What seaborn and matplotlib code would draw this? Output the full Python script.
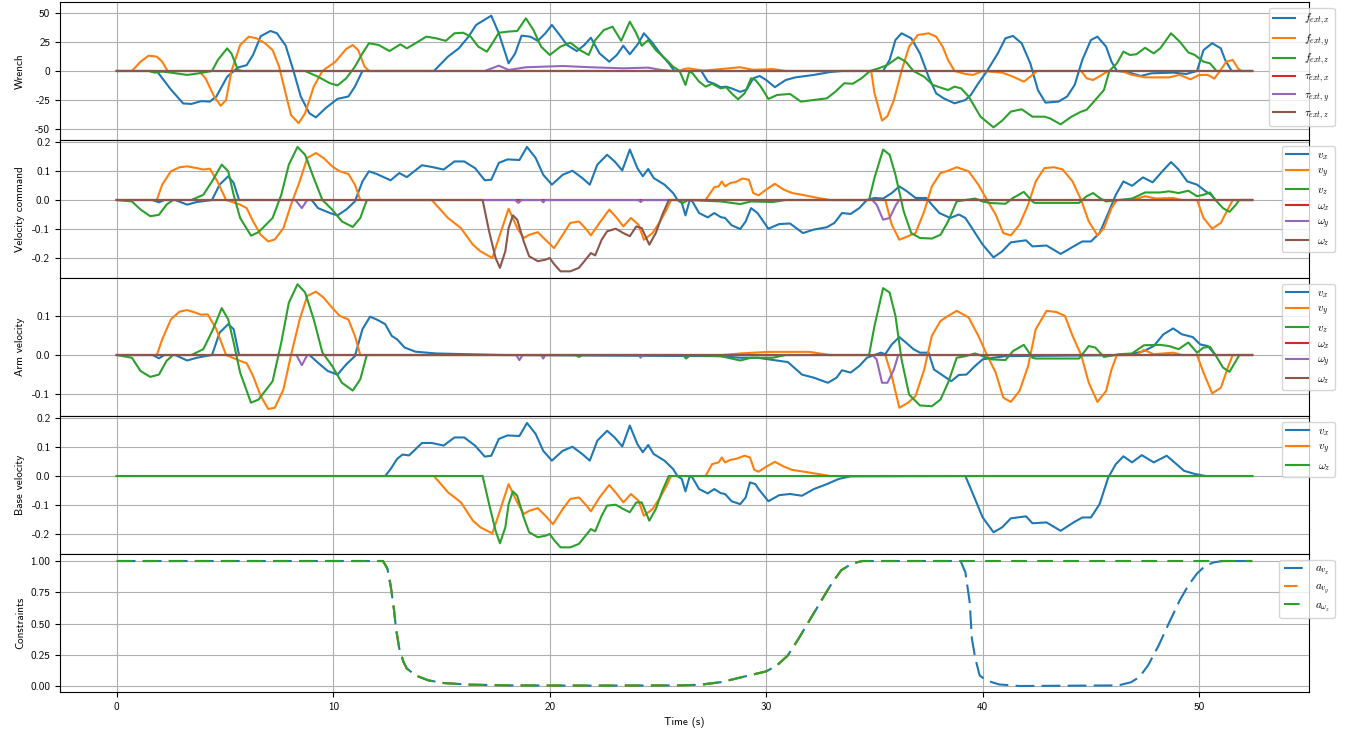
import matplotlib
matplotlib.use('Agg')
import matplotlib.pyplot as plt
import seaborn as sns
import pandas as pd

# time in s: (t, v) pairs
T_END = 52.45

# --- Wrench
f_ext_x = [(0, 0), (1.85, 0), (2.5, -16), (3.07, -28), (3.45, -28.4), (3.9, -26), (4.3, -26.4), (4.6, -22), (5.1, -5), (5.6, 3), (6.0, 5), (6.3, 14), (6.65, 30), (7.1, 34.5), (7.4, 32.5), (7.8, 22), (8.15, 1), (8.5, -22), (8.9, -36.5), (9.2, -40), (9.65, -32), (10.2, -24), (10.7, -22), (11.0, -13.5), (11.35, 0), (14.65, 0), (15.3, 12.4), (15.8, 19.5), (16.25, 29.6), (16.6, 39.7), (17.3, 47.7), (17.65, 32.5), (18.1, 6.6), (18.4, 15), (18.7, 30.5), (19.1, 29.6), (19.45, 26), (19.8, 32.5), (20.1, 39.7), (20.4, 32.5), (20.8, 22.4), (21.25, 17.2), (21.6, 22.4), (21.9, 28.7), (22.3, 15.2), (22.75, 8), (23.1, 13.8), (23.4, 21.8), (23.7, 14.4), (24.1, 23.9), (24.35, 32.5), (24.7, 25.3), (25.1, 15.2), (25.5, 6.6), (25.76, 0), (27.0, 0), (27.3, -9), (27.6, -11), (27.9, -14), (28.15, -13.5), (28.4, -15), (28.8, -18), (29.1, -16), (29.4, -6.3), (29.7, -4.3), (30.0, -7.8), (30.4, -14), (30.9, -7.8), (31.35, -5.5), (32.2, -3.4), (32.96, -0.9), (33.5, 0), (35.4, 0), (35.7, 9.5), (35.97, 26.7), (36.25, 32.5), (36.7, 28.2), (37.1, 15.2), (37.5, -5), (37.85, -19.3), (38.2, -23.6), (38.7, -27.9), (39.2, -25), (39.45, -20.7), (39.8, -10.6), (40.2, 0), (40.7, 15.2), (41.05, 28.2), (41.4, 30.2), (41.8, 23.9), (42.2, 6.6), (42.55, -16.4), (42.9, -27.3), (43.5, -26.4), (43.9, -22), (44.25, -12), (44.6, 9.5), (45.0, 26.7), (45.3, 29.6), (45.7, 21), (45.95, 8), (46.2, 0), (46.7, -1), (47.3, -4.3), (47.8, -2), (48.8, -1.4), (49.4, -2.6), (49.9, 0), (50.2, 18), (50.6, 23.9), (51.0, 19.5), (51.2, 9.5), (51.5, 0), (T_END, 0)]
f_ext_y = [(0, 0), (0.7, 0), (1.1, 8), (1.47, 13.2), (1.85, 12.4), (2.1, 8), (2.35, 0), (3.8, 0), (4.1, -6.3), (4.5, -22), (4.8, -30), (5.05, -25), (5.3, 0), (5.7, 22.4), (6.1, 29.6), (6.45, 28.2), (6.85, 23.9), (7.2, 18), (7.5, 3.7), (7.8, -19.3), (8.05, -38), (8.4, -45), (8.7, -36.5), (9.1, -13.5), (9.5, 0), (10.1, 8), (10.6, 19), (10.9, 22.4), (11.15, 18), (11.45, 3.7), (11.65, 0), (26.0, 0), (26.2, 1.7), (26.4, 2.3), (27.1, 0.3), (28.8, 3.2), (29.4, 1), (30.3, 1.7), (30.9, 0), (34.85, 0), (35.0, -19), (35.35, -42.8), (35.6, -39), (35.9, -25), (36.25, 0), (36.6, 21), (37.0, 31), (37.5, 32.5), (37.85, 29.6), (38.15, 21), (38.4, 9.5), (38.7, 0), (39.2, -2.6), (39.55, -3.4), (40.0, 0), (40.9, -1.4), (41.4, -4.9), (41.9, -9.2), (42.2, -4.9), (42.5, 0), (44.55, 0), (44.8, -6.3), (45.1, -7.8), (45.5, -3.4), (45.8, 0), (46.4, 0), (46.9, -3.4), (47.5, -5.5), (48.6, -5.5), (49.1, -3.4), (49.6, -7.2), (50.0, -3.4), (50.4, -3.4), (50.7, -6.6), (50.96, 0), (51.25, 8), (51.55, 9.5), (51.8, 2), (51.95, 0), (T_END, 0)]
f_ext_z = [(0, 0), (1.47, 0), (1.75, -1.4), (2.1, -0.5), (2.5, -1.4), (3.25, -3.4), (3.8, -2), (4.4, 0), (4.67, 9.5), (5.1, 19.5), (5.3, 15), (5.6, 0.9), (5.8, 0), (8.7, 0), (9.3, -5), (9.85, -10.6), (10.2, -12.4), (10.6, -6.3), (11.0, 3.7), (11.35, 15.2), (11.65, 23.9), (12.1, 22.4), (12.6, 17.2), (13.1, 23), (13.4, 19.5), (13.8, 23.9), (14.3, 29.6), (14.75, 28.2), (15.2, 26), (15.6, 32.5), (16.0, 33), (16.35, 29.6), (16.7, 21), (17.1, 16.7), (17.35, 23.9), (17.65, 33), (18.1, 34), (18.5, 34.5), (18.9, 45.4), (19.25, 35.3), (19.6, 21), (20.0, 13.8), (20.5, 21), (20.95, 24.4), (21.4, 18), (21.8, 13.8), (22.1, 26.7), (22.5, 35.3), (22.9, 38.2), (23.3, 26), (23.7, 42.5), (24.0, 32.5), (24.25, 21.8), (24.55, 26.7), (24.9, 18), (25.4, 9.5), (25.7, 3.7), (26.0, 0), (26.27, -12), (26.45, -0.5), (26.6, -2), (26.9, -9.2), (27.2, -13.5), (27.5, -11), (27.9, -15), (28.15, -14), (28.4, -19.3), (28.7, -24.4), (29.0, -19.3), (29.3, -6.3), (29.5, -7.8), (29.75, -13.5), (30.1, -24.1), (30.5, -20.7), (31.1, -19.8), (31.6, -26.4), (32.2, -25), (32.8, -23.6), (33.2, -17.8), (33.6, -10.6), (34.0, -11), (34.4, -6.3), (34.8, 0), (35.2, 2.3), (35.6, 5.2), (36.1, 11.8), (36.45, 8), (36.8, 0), (37.3, -5), (37.7, -12), (38.0, -14), (38.4, -16.4), (38.7, -13.5), (39.0, -15), (39.35, -22), (39.9, -39.4), (40.5, -48.6), (40.9, -42.8), (41.3, -35), (41.8, -33), (42.3, -39.4), (42.85, -39.4), (43.1, -40.8), (43.6, -46), (44.1, -39.4), (44.55, -35), (44.8, -33.5), (45.2, -25), (45.6, -16.4), (45.85, 0), (46.2, 6.6), (46.5, 16.7), (46.8, 13.8), (47.1, 14.4), (47.5, 20), (47.9, 15.2), (48.2, 19.5), (48.7, 32.5), (49.1, 25.3), (49.5, 16), (49.8, 13.8), (50.2, 8), (50.5, 6.6), (50.8, 0), (T_END, 0)]
tau_ext_x = [(0, 0), (T_END, 0)]
tau_ext_y = [(0, 0), (17.0, 0), (17.65, 4.6), (18.1, 0.9), (18.9, 3.2), (20.6, 4.3), (21.9, 3.2), (23.4, 2.3), (24.55, 2.9), (25.1, 1), (25.7, 0), (T_END, 0)]
tau_ext_z = [(0, 0), (T_END, 0)]

# --- Velocity command
cmd_vx = [(0, 0), (1.65, 0), (1.95, -0.008), (2.2, 0), (2.7, 0), (3.25, -0.016), (3.7, -0.007), (4.4, 0), (4.75, 0.053), (5.15, 0.082), (5.4, 0.059), (5.65, 0), (9.0, 0), (9.3, -0.028), (9.85, -0.045), (10.2, -0.053), (10.6, -0.033), (11.0, -0.005), (11.35, 0.064), (11.65, 0.099), (12.0, 0.09), (12.65, 0.068), (13.05, 0.093), (13.4, 0.079), (14.1, 0.12), (14.55, 0.114), (15.1, 0.105), (15.6, 0.133), (16.05, 0.133), (16.55, 0.11), (17.0, 0.068), (17.3, 0.07), (17.65, 0.128), (18.05, 0.14), (18.6, 0.138), (18.95, 0.183), (19.35, 0.145), (19.7, 0.087), (20.1, 0.053), (20.6, 0.087), (21.05, 0.101), (21.5, 0.076), (21.85, 0.053), (22.2, 0.122), (22.65, 0.156), (23.0, 0.133), (23.35, 0.102), (23.7, 0.174), (24.05, 0.11), (24.3, 0.082), (24.55, 0.107), (24.8, 0.076), (25.3, 0.053), (25.7, 0.024), (25.9, 0), (26.1, -0.01), (26.27, -0.053), (26.45, -0.005), (26.55, 0), (26.9, -0.045), (27.3, -0.06), (27.6, -0.045), (27.9, -0.059), (28.1, -0.062), (28.4, -0.087), (28.8, -0.1), (29.05, -0.074), (29.3, -0.028), (29.6, -0.045), (30.1, -0.099), (30.6, -0.083), (31.1, -0.081), (31.7, -0.114), (32.2, -0.102), (32.8, -0.094), (33.15, -0.079), (33.5, -0.045), (33.9, -0.048), (34.3, -0.028), (34.65, 0), (35.0, 0.007), (35.4, 0.005), (35.8, 0.024), (36.15, 0.047), (36.5, 0.03), (36.9, 0.007), (37.4, 0.007), (37.65, -0.016), (38.0, -0.045), (38.5, -0.062), (38.9, -0.05), (39.2, -0.062), (39.55, -0.102), (40.0, -0.154), (40.5, -0.198), (40.9, -0.177), (41.3, -0.146), (42.0, -0.139), (42.3, -0.16), (42.95, -0.157), (43.6, -0.186), (44.2, -0.16), (44.6, -0.143), (45.0, -0.143), (45.4, -0.114), (45.8, -0.045), (46.15, 0.018), (46.5, 0.064), (46.9, 0.049), (47.4, 0.078), (47.85, 0.061), (48.3, 0.099), (48.7, 0.131), (49.05, 0.105), (49.45, 0.064), (49.9, 0.053), (50.3, 0.03), (50.55, 0.018), (50.75, 0), (T_END, 0)]
cmd_vy = [(0, 0), (1.85, 0), (2.1, 0.053), (2.5, 0.099), (2.9, 0.113), (3.25, 0.116), (3.7, 0.11), (4.0, 0.105), (4.3, 0.108), (4.65, 0.064), (5.05, 0), (5.7, -0.016), (6.0, -0.028), (6.3, -0.074), (6.65, -0.12), (7.0, -0.143), (7.3, -0.136), (7.7, -0.097), (8.05, -0.016), (8.45, 0.064), (8.8, 0.145), (9.2, 0.162), (9.55, 0.145), (9.95, 0.116), (10.3, 0.099), (10.7, 0.09), (11.0, 0.053), (11.25, 0), (14.55, 0), (15.3, -0.062), (15.9, -0.097), (16.45, -0.154), (16.8, -0.177), (17.35, -0.2), (17.65, -0.131), (18.1, -0.03), (18.5, -0.097), (18.8, -0.131), (19.05, -0.12), (19.45, -0.111), (19.8, -0.137), (20.2, -0.166), (20.6, -0.12), (20.95, -0.079), (21.35, -0.074), (21.7, -0.102), (21.9, -0.122), (22.3, -0.079), (22.75, -0.033), (23.1, -0.062), (23.4, -0.091), (23.75, -0.062), (24.1, -0.085), (24.35, -0.137), (24.75, -0.114), (25.1, -0.074), (25.4, -0.033), (25.6, 0), (27.2, 0), (27.6, 0.044), (27.8, 0.047), (27.95, 0.064), (28.1, 0.047), (28.35, 0.059), (28.6, 0.062), (28.9, 0.074), (29.2, 0.07), (29.4, 0.024), (29.65, 0.016), (30.0, 0.036), (30.4, 0.056), (30.8, 0.036), (31.2, 0.024), (31.65, 0.018), (32.4, 0.007), (32.95, 0), (35.5, 0), (35.8, -0.085), (36.15, -0.137), (36.55, -0.125), (36.9, -0.114), (37.3, -0.039), (37.65, 0.047), (38.05, 0.093), (38.4, 0.101), (38.8, 0.113), (39.35, 0.099), (39.8, 0.053), (40.2, 0), (40.6, -0.05), (40.95, -0.114), (41.3, -0.122), (41.7, -0.085), (42.1, -0.016), (42.45, 0.064), (42.85, 0.11), (43.3, 0.113), (43.7, 0.105), (44.15, 0.064), (44.55, 0), (44.9, -0.074), (45.3, -0.122), (45.6, -0.097), (45.95, -0.028), (46.2, 0), (46.9, 0), (47.5, 0.013), (48.0, 0.005), (48.8, 0.007), (49.2, 0), (49.9, 0), (50.2, -0.062), (50.6, -0.099), (51.0, -0.079), (51.35, -0.028), (51.55, 0), (T_END, 0)]
cmd_vz = [(0, 0), (0.7, -0.005), (1.1, -0.033), (1.55, -0.056), (1.95, -0.051), (2.3, -0.016), (2.6, 0), (3.45, 0), (4.0, 0.018), (4.4, 0.064), (4.85, 0.122), (5.15, 0.099), (5.4, 0.018), (5.7, -0.062), (6.2, -0.123), (6.55, -0.111), (7.2, -0.062), (7.6, 0.018), (7.95, 0.122), (8.35, 0.183), (8.7, 0.156), (9.1, 0.076), (9.5, 0), (9.95, -0.033), (10.4, -0.074), (10.9, -0.093), (11.25, -0.062), (11.55, 0), (26.0, 0), (26.15, -0.01), (26.4, 0), (27.9, -0.005), (28.8, -0.014), (29.3, -0.005), (30.3, -0.007), (30.9, 0), (34.75, 0), (35.0, 0.076), (35.4, 0.174), (35.7, 0.156), (35.97, 0.087), (36.35, -0.039), (36.7, -0.114), (37.1, -0.131), (37.65, -0.133), (38.05, -0.12), (38.4, -0.074), (38.8, -0.005), (39.2, 0), (39.65, 0.005), (40.0, -0.005), (40.3, -0.01), (41.05, -0.013), (41.4, 0.007), (41.9, 0.028), (42.3, -0.005), (42.4, -0.01), (44.45, -0.01), (44.8, 0.013), (45.1, 0.024), (45.4, 0.007), (45.7, -0.005), (46.3, 0), (46.9, 0.005), (47.5, 0.026), (48.2, 0.026), (48.6, 0.03), (49.05, 0.024), (49.5, 0.032), (49.9, 0.013), (50.2, 0.018), (50.5, 0.026), (50.75, 0), (51.1, -0.028), (51.4, -0.041), (51.7, -0.016), (51.85, 0), (T_END, 0)]
cmd_wx = [(0, 0), (T_END, 0)]
cmd_wy = [(0, 0), (8.25, 0), (8.55, -0.028), (8.8, 0), (18.4, 0), (18.55, -0.01), (18.7, 0), (19.6, 0), (19.7, -0.008), (19.8, 0), (24.1, 0), (24.2, -0.007), (24.3, 0), (34.9, 0), (35.1, -0.016), (35.4, -0.068), (35.7, -0.062), (36.0, -0.016), (36.15, 0), (T_END, 0)]
cmd_wz = [(0, 0), (16.9, 0), (17.2, -0.108), (17.5, -0.2), (17.7, -0.234), (17.95, -0.177), (18.1, -0.097), (18.3, -0.053), (18.5, -0.068), (18.8, -0.143), (19.05, -0.194), (19.45, -0.211), (19.8, -0.206), (20.0, -0.2), (20.2, -0.221), (20.5, -0.246), (20.95, -0.246), (21.35, -0.234), (21.6, -0.211), (21.9, -0.183), (22.1, -0.191), (22.4, -0.137), (22.65, -0.108), (23.05, -0.099), (23.4, -0.114), (23.7, -0.125), (24.0, -0.091), (24.25, -0.097), (24.6, -0.154), (24.9, -0.114), (25.2, -0.051), (25.5, 0), (T_END, 0)]

# --- Arm velocity
arm_vx = [(0, 0), (1.65, 0), (1.95, -0.0085), (2.2, 0), (2.7, 0), (3.25, -0.014), (3.7, -0.007), (4.4, 0), (4.75, 0.057), (5.15, 0.079), (5.4, 0.066), (5.65, 0), (8.9, 0), (9.3, -0.02), (9.75, -0.041), (10.2, -0.05), (10.6, -0.024), (11.0, -0.003), (11.35, 0.066), (11.7, 0.098), (12.0, 0.091), (12.4, 0.079), (12.7, 0.049), (12.95, 0.04), (13.3, 0.019), (13.8, 0.0085), (14.75, 0.004), (16.25, 0.002), (17.75, 0), (27.9, -0.003), (28.8, -0.007), (29.6, -0.007), (30.1, -0.011), (31.0, -0.018), (31.65, -0.05), (32.2, -0.058), (32.85, -0.071), (33.25, -0.058), (33.5, -0.039), (33.9, -0.045), (34.3, -0.028), (34.65, -0.007), (35.0, 0), (35.3, 0.006), (35.5, 0.002), (35.8, 0.027), (36.15, 0.046), (36.45, 0.032), (36.8, 0.015), (37.1, 0.006), (37.5, 0.006), (37.75, -0.037), (38.15, -0.052), (38.55, -0.067), (38.9, -0.051), (39.25, -0.05), (39.65, -0.028), (40.0, -0.011), (40.5, -0.007), (41.05, -0.003), (46.7, 0), (47.45, 0.01), (47.9, 0.023), (48.35, 0.053), (48.8, 0.068), (49.2, 0.053), (49.7, 0.046), (50.05, 0.027), (50.4, 0.023), (50.75, 0), (T_END, 0)]
arm_vy = [(0, 0), (1.85, 0), (2.1, 0.04), (2.5, 0.091), (2.9, 0.111), (3.25, 0.115), (3.6, 0.109), (3.9, 0.103), (4.2, 0.104), (4.6, 0.066), (5.05, 0), (5.7, -0.015), (6.0, -0.021), (6.3, -0.054), (6.65, -0.105), (7.0, -0.138), (7.3, -0.135), (7.7, -0.088), (8.05, 0), (8.45, 0.091), (8.8, 0.151), (9.2, 0.162), (9.55, 0.147), (9.95, 0.121), (10.3, 0.1), (10.7, 0.091), (11.0, 0.049), (11.25, 0), (28.0, 0), (28.8, 0.004), (30.1, 0.008), (32.0, 0.008), (32.95, 0), (35.5, 0), (35.8, -0.054), (36.15, -0.135), (36.55, -0.122), (36.9, -0.105), (37.3, -0.037), (37.65, 0.049), (38.05, 0.087), (38.4, 0.1), (38.8, 0.113), (39.35, 0.096), (39.8, 0.049), (40.2, 0), (40.6, -0.045), (40.95, -0.109), (41.3, -0.12), (41.7, -0.092), (42.1, -0.028), (42.45, 0.066), (42.95, 0.113), (43.4, 0.11), (43.8, 0.1), (44.15, 0.049), (44.55, 0), (44.9, -0.071), (45.3, -0.12), (45.7, -0.092), (45.95, -0.037), (46.2, 0), (47.1, 0), (47.45, 0.013), (47.9, 0.002), (48.8, 0.006), (49.2, 0), (49.9, 0), (50.2, -0.045), (50.6, -0.098), (51.0, -0.084), (51.35, -0.028), (51.55, 0), (T_END, 0)]
arm_vz = [(0, 0), (0.7, -0.007), (1.1, -0.041), (1.55, -0.056), (1.95, -0.05), (2.3, -0.015), (2.6, 0), (3.45, 0), (4.0, 0.015), (4.45, 0.066), (4.85, 0.12), (5.15, 0.091), (5.4, 0.032), (5.7, -0.045), (6.2, -0.122), (6.55, -0.114), (7.2, -0.067), (7.6, 0.032), (7.95, 0.134), (8.35, 0.181), (8.7, 0.16), (9.1, 0.091), (9.5, 0.006), (9.95, -0.028), (10.4, -0.071), (10.9, -0.091), (11.25, -0.062), (11.55, 0), (21.2, 0), (21.35, -0.005), (21.5, 0), (26.15, 0), (26.3, -0.009), (26.5, 0), (27.9, -0.003), (28.8, -0.014), (29.3, -0.007), (30.3, -0.007), (30.9, 0), (34.75, 0), (35.0, 0.074), (35.4, 0.171), (35.7, 0.16), (35.97, 0.1), (36.25, -0.011), (36.6, -0.101), (37.1, -0.129), (37.65, -0.131), (38.05, -0.114), (38.4, -0.071), (38.8, -0.007), (39.2, -0.003), (39.65, 0.004), (40.0, -0.003), (40.4, -0.011), (41.05, -0.013), (41.4, 0.01), (41.9, 0.026), (42.3, -0.007), (42.45, -0.009), (44.45, -0.009), (44.9, 0.023), (45.2, 0.019), (45.6, -0.005), (46.3, 0.002), (46.9, 0.004), (47.45, 0.025), (48.2, 0.026), (48.6, 0.023), (49.05, 0.015), (49.5, 0.032), (49.9, 0.006), (50.2, 0.019), (50.5, 0.021), (50.75, 0), (51.1, -0.032), (51.4, -0.043), (51.7, -0.015), (51.85, 0), (T_END, 0)]
arm_wx = [(0, 0), (T_END, 0)]
arm_wy = [(0, 0), (8.3, 0), (8.55, -0.026), (8.8, 0), (18.45, 0), (18.6, -0.013), (18.75, 0), (19.6, 0), (19.7, -0.009), (19.8, 0), (24.1, 0), (24.2, -0.007), (24.3, 0), (34.9, 0), (35.1, -0.011), (35.35, -0.071), (35.6, -0.071), (35.9, -0.037), (36.1, 0), (T_END, 0)]
arm_wz = [(0, 0), (T_END, 0)]

# --- Base velocity
base_vx = [(0, 0), (12.4, 0), (12.65, 0.024), (12.95, 0.059), (13.2, 0.074), (13.5, 0.071), (14.1, 0.114), (14.55, 0.114), (15.1, 0.105), (15.6, 0.133), (16.05, 0.133), (16.55, 0.105), (17.0, 0.067), (17.3, 0.07), (17.65, 0.128), (18.05, 0.14), (18.6, 0.138), (18.95, 0.183), (19.35, 0.145), (19.7, 0.087), (20.1, 0.053), (20.6, 0.087), (21.05, 0.101), (21.5, 0.076), (21.85, 0.053), (22.2, 0.122), (22.65, 0.156), (23.0, 0.133), (23.35, 0.102), (23.7, 0.174), (24.05, 0.11), (24.3, 0.082), (24.55, 0.107), (24.8, 0.076), (25.3, 0.053), (25.7, 0.024), (25.9, 0), (26.1, -0.01), (26.27, -0.053), (26.45, -0.005), (26.55, 0), (26.9, -0.045), (27.3, -0.06), (27.6, -0.045), (27.9, -0.059), (28.1, -0.062), (28.4, -0.087), (28.8, -0.097), (29.05, -0.074), (29.25, -0.022), (29.5, -0.028), (29.65, -0.045), (30.1, -0.087), (30.6, -0.066), (31.1, -0.062), (31.65, -0.068), (32.2, -0.045), (32.8, -0.028), (33.35, -0.01), (33.9, -0.001), (39.2, 0), (39.55, -0.062), (40.0, -0.143), (40.5, -0.194), (40.9, -0.177), (41.3, -0.146), (42.0, -0.139), (42.3, -0.163), (42.95, -0.16), (43.6, -0.189), (44.2, -0.16), (44.6, -0.143), (45.0, -0.143), (45.4, -0.097), (45.8, -0.005), (46.15, 0.041), (46.5, 0.068), (46.9, 0.047), (47.35, 0.072), (47.9, 0.047), (48.5, 0.07), (48.95, 0.041), (49.3, 0.018), (49.8, 0.007), (50.3, 0), (T_END, 0)]
base_vy = [(0, 0), (14.65, 0), (15.3, -0.056), (15.9, -0.091), (16.45, -0.154), (16.8, -0.177), (17.35, -0.198), (17.65, -0.131), (18.1, -0.028), (18.5, -0.091), (18.8, -0.131), (19.05, -0.12), (19.45, -0.111), (19.8, -0.137), (20.15, -0.166), (20.6, -0.114), (20.95, -0.079), (21.35, -0.074), (21.7, -0.102), (21.9, -0.122), (22.3, -0.074), (22.75, -0.031), (23.1, -0.062), (23.4, -0.091), (23.75, -0.062), (24.1, -0.085), (24.35, -0.137), (24.75, -0.114), (25.1, -0.074), (25.4, -0.033), (25.6, 0), (27.2, 0), (27.5, 0.041), (27.8, 0.047), (27.95, 0.064), (28.1, 0.047), (28.35, 0.056), (28.6, 0.059), (29.0, 0.07), (29.25, 0.064), (29.45, 0.021), (29.65, 0.015), (30.0, 0.032), (30.4, 0.049), (30.8, 0.033), (31.2, 0.021), (31.65, 0.016), (32.4, 0.007), (32.95, 0), (T_END, 0)]
base_wz = [(0, 0), (16.9, 0), (17.2, -0.097), (17.5, -0.189), (17.7, -0.232), (17.95, -0.177), (18.1, -0.097), (18.3, -0.053), (18.5, -0.068), (18.8, -0.143), (19.05, -0.194), (19.45, -0.211), (19.8, -0.206), (20.0, -0.2), (20.2, -0.221), (20.5, -0.246), (20.95, -0.246), (21.35, -0.234), (21.6, -0.211), (21.9, -0.183), (22.1, -0.191), (22.4, -0.137), (22.65, -0.102), (23.05, -0.099), (23.4, -0.114), (23.7, -0.125), (24.0, -0.091), (24.25, -0.091), (24.6, -0.154), (24.9, -0.114), (25.2, -0.051), (25.5, 0), (T_END, 0)]

# --- Constraints
con_vy = [(0, 1), (12.3, 1), (12.5, 0.94), (12.65, 0.805), (12.8, 0.62), (12.9, 0.46), (13.05, 0.3), (13.25, 0.19), (13.4, 0.14), (13.8, 0.085), (14.4, 0.045), (15.1, 0.024), (16.25, 0.011), (18.1, 0.005), (21.9, 0.003), (26.0, 0.005), (27.0, 0.011), (27.95, 0.032), (28.9, 0.072), (30.0, 0.117), (30.5, 0.165), (31.0, 0.245), (31.5, 0.38), (32.0, 0.525), (32.5, 0.67), (32.97, 0.805), (33.46, 0.925), (33.96, 0.98), (34.45, 1.0), (T_END, 1.0)]
con_wz = list(con_vy)  # same curve as a_vy in the picture
con_vx = con_vy[:-1] + [(38.98, 1.0), (39.2, 0.91), (39.4, 0.67), (39.5, 0.38), (39.66, 0.22), (39.86, 0.085), (40.16, 0.045), (40.75, 0.013), (41.7, 0.0), (46.26, 0.005), (46.85, 0.03), (47.24, 0.072), (47.64, 0.165), (48.13, 0.325), (48.62, 0.51), (49.1, 0.685), (49.5, 0.805), (49.9, 0.9), (50.3, 0.965), (50.7, 0.99), (51.1, 1.0), (T_END, 1.0)]


def to_long(series):
    rows = []
    for label, pts in series:
        for t, v in pts:
            rows.append({'t': t, 'v': v, 'series': label})
    return pd.DataFrame(rows)


panels = [
    ('Wrench', [(r'$f_{ext,x}$', f_ext_x), (r'$f_{ext,y}$', f_ext_y), (r'$f_{ext,z}$', f_ext_z),
                (r'$\tau_{ext,x}$', tau_ext_x), (r'$\tau_{ext,y}$', tau_ext_y), (r'$\tau_{ext,z}$', tau_ext_z)],
     (-59.5, 59.5), [-50, -25, 0, 25, 50]),
    ('Velocity command', [(r'$v_x$', cmd_vx), (r'$v_y$', cmd_vy), (r'$v_z$', cmd_vz),
                          (r'$\omega_x$', cmd_wx), (r'$\omega_y$', cmd_wy), (r'$\omega_z$', cmd_wz)],
     (-0.269, 0.207), [-0.2, -0.1, 0.0, 0.1, 0.2]),
    ('Arm velocity', [(r'$v_x$', arm_vx), (r'$v_y$', arm_vy), (r'$v_z$', arm_vz),
                      (r'$\omega_x$', arm_wx), (r'$\omega_y$', arm_wy), (r'$\omega_z$', arm_wz)],
     (-0.156, 0.197), [-0.1, 0.0, 0.1]),
    ('Base velocity', [(r'$v_x$', base_vx), (r'$v_y$', base_vy), (r'$\omega_z$', base_wz)],
     (-0.269, 0.207), [-0.2, -0.1, 0.0, 0.1, 0.2]),
    ('Constraints', [(r'$a_{v_x}$', con_vx), (r'$a_{v_y}$', con_vy), (r'$a_{\omega_z}$', con_wz)],
     (-0.048, 1.056), [0.0, 0.25, 0.5, 0.75, 1.0]),
]

plt.rcParams.update({
    'font.family': 'cmss10',
    'mathtext.fontset': 'cm',
    'axes.unicode_minus': False,
    'axes.formatter.use_mathtext': False,
    'font.size': 8,
})

fig, axes = plt.subplots(5, 1, sharex=True, figsize=(13.49, 7.34), dpi=100)
fig.subplots_adjust(left=0.0445, right=0.9703, top=0.9973, bottom=0.0572, hspace=0)

tab10 = sns.color_palette('tab10')
for ax, (ylabel, series, ylim, yticks) in zip(axes, panels):
    df = to_long(series)
    labels = [s[0] for s in series]
    pal = dict(zip(labels, tab10[:len(labels)]))
    if ylabel == 'Constraints':
        # the three dashed curves overlap, so dash lengths differ a bit
        dash_map = dict(zip(labels, [(9, 3.5), (6.5, 6), (7.5, 5)]))
        sns.lineplot(data=df, x='t', y='v', hue='series', style='series', dashes=dash_map,
                     palette=pal, estimator=None, sort=False, linewidth=1.5, ax=ax)
    else:
        sns.lineplot(data=df, x='t', y='v', hue='series', palette=pal,
                     estimator=None, sort=False, linewidth=1.5, ax=ax)
    ax.set_ylim(*ylim)
    ax.set_yticks(yticks)
    if ylabel == 'Constraints':
        ax.set_yticklabels([f'{y:.2f}' for y in yticks])
    else:
        ax.set_yticklabels([f'{y:g}' if isinstance(y, int) else f'{y:.1f}' for y in yticks])
    ax.set_ylabel(ylabel, fontsize=8)
    ax.set_xlabel('')
    ax.grid(True, color='#b0b0b0', linewidth=0.8)
    ax.set_axisbelow(True)
    sns.move_legend(ax, 'upper right', bbox_to_anchor=(1.025, 1.0), title=None,
                    fontsize=8, labelspacing=0.4, frameon=True)

axes[-1].set_xlim(-2.62, 55.07)
axes[-1].set_xticks([0, 10, 20, 30, 40, 50])
axes[-1].set_xlabel('Time (s)', fontsize=8)
fig.align_ylabels(axes)

fig.savefig('out.png', dpi=100)
